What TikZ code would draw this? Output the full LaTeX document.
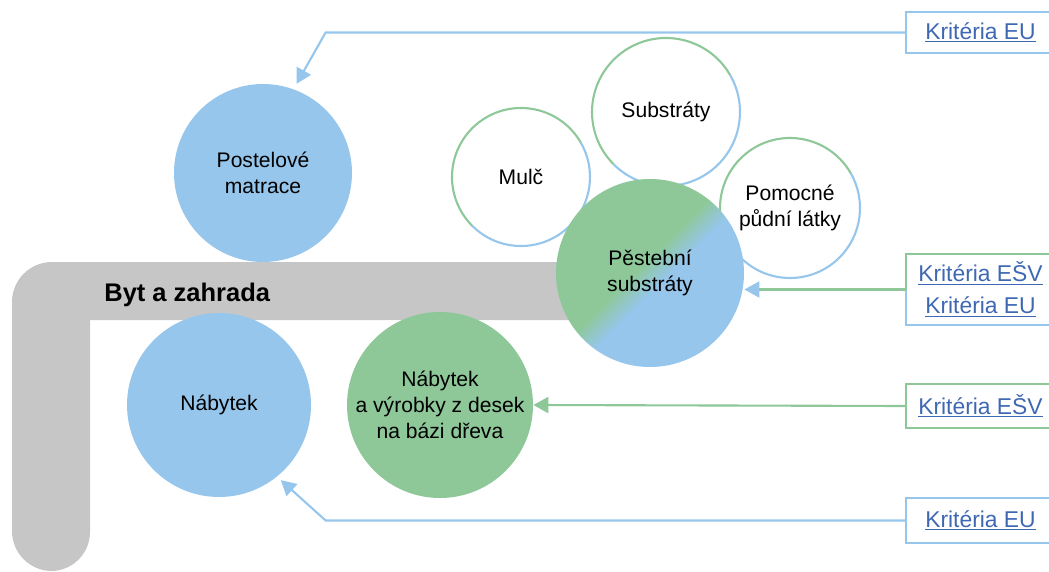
\documentclass[tikz,border=0pt]{standalone}
\usepackage{fontspec}
\setmainfont{Liberation Sans}
\usepackage{tikz}
\usetikzlibrary{positioning,
        shapes,
        arrows.meta}
\usepackage{xcolor}
\definecolor{eublue}{RGB}{150,198,236}
\definecolor{esvgreen}{RGB}{142,200,153}
\definecolor{bargray}{RGB}{198,198,198}
\definecolor{linkblue}{RGB}{63,104,178}
\pgfdeclarehorizontalshading{pestebni}{100bp}{color(0bp)=(esvgreen); color(47bp)=(esvgreen); color(54bp)=(eublue); color(100bp)=(eublue)}
\newcommand{\krit}[1]{\underline{#1}}

\begin{document}
\begin{tikzpicture}[
    bubble/.style={circle,align=center,inner sep=0pt,font=\fontsize{12}{14.7}\selectfont},
    eububble/.style={bubble,fill=eublue},
    esvbubble/.style={bubble,fill=esvgreen},
    whitebubble/.style={bubble,fill=white},
    linkbox/.style={minimum width=2.98cm,align=center,text=linkblue,font=\fontsize{13}{18.5}\selectfont},
    euline/.style={draw=eublue,line width=1.2pt},
    esvline/.style={draw=esvgreen,line width=1.2pt},
    linkarrow/.style={-{Triangle[length=0.3cm,width=0.32cm]}}
]
            \useasboundingbox (0,0) rectangle (20.98,11.42);

            % sedy pas
            \fill[bargray] (1.80,5.02) -- (12.0,5.02) -- (12.0,6.18) [rounded corners=0.8cm] -- (0.24,6.18) -- (0.24,0) [rounded corners=0.78cm] -- (1.80,0) -- (1.80,5.02);
            \node [anchor=west,inner sep=0pt,font=\fontsize{14.5}{17}\selectfont\bfseries] (0) at (2.08,5.52) {Byt a zahrada};

            \node [whitebubble,minimum size=2.76cm] (5) at (10.42,7.88) {Mulč};
            \node [whitebubble,minimum size=2.96cm] (6) at (13.32,9.18) {Substráty};
            \node [whitebubble,minimum size=2.80cm] (7) at (15.80,7.26) {Pomocné\\půdní látky};
            \foreach \n/\r in {5/1.38cm,6/1.48cm,7/1.40cm} {
                \draw[esvline] ([shift={(30:\r)}]\n.center) arc[start angle=30,end angle=225,radius=\r];
                \draw[euline] ([shift={(225:\r)}]\n.center) arc[start angle=225,end angle=390,radius=\r];
            }

            \node [eububble,minimum size=3.56cm] (1) at (5.26,7.96) {Postelové\\matrace};
            \node [eububble,minimum size=3.68cm] (2) at (4.38,3.32) {Nábytek};
            \node [esvbubble,minimum size=3.72cm] (3) at (8.80,3.32) {Nábytek\\a výrobky z desek\\na bázi dřeva};
            \node [bubble,minimum size=3.76cm,shading=pestebni,shading angle=-45] (4) at (13.00,5.96) {Pěstební\\substráty};

            \node [linkbox,minimum height=0.82cm] (k1) at (19.61,10.77) {\krit{Kritéria EU}};
            \node [linkbox,minimum height=1.42cm] (k2) at (19.61,5.63) {\krit{Kritéria EŠV}\\\krit{Kritéria EU}};
            \node [linkbox,minimum height=0.88cm] (k3) at (19.61,3.30) {\krit{Kritéria EŠV}};
            \node [linkbox,minimum height=0.90cm] (k4) at (19.61,1.01) {\krit{Kritéria EU}};

            \draw[euline] (k1.south west) rectangle (k1.north east);
            \draw[esvline] (k2.west) |- (k2.north east);
            \draw[euline] (k2.west) |- (k2.south east);
            \draw[esvline] (k3.south west) rectangle (k3.north east);
            \draw[euline] (k4.south west) rectangle (k4.north east);

            \draw[euline,linkarrow,shorten >=0.12cm] (k1.west) -- ++(-11.60,0) -- (1.70);
            \draw[esvline,-{Triangle[length=0.3cm,width=0.32cm,color=eublue]}] (k2.west) -- (k2.west -| 4.east);
            \draw[esvline,linkarrow] (k3.west) -- (3.east);
            \draw[euline,linkarrow,shorten >=0.1cm] (k4.west) -- ++(-11.60,0) -- (2.-51);
        \end{tikzpicture}
\end{document}
